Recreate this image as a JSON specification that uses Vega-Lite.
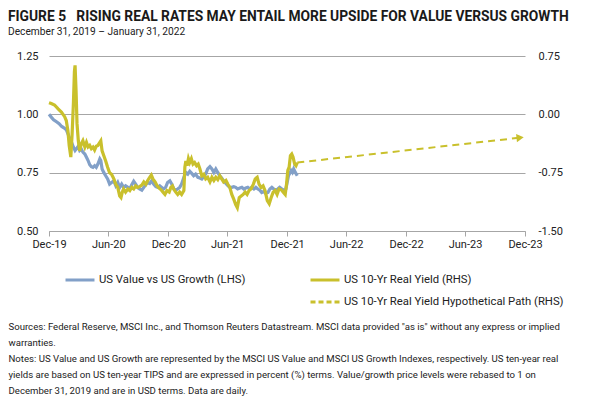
{
  "$schema": "https://vega.github.io/schema/vega-lite/v6.json",
  "width": 476,
  "height": 175,
  "autosize": {"type": "none"},
  "padding": {"left": 49, "top": 56, "right": 70, "bottom": 166},
  "background": "white",
  "config": {
    "font": "Roboto",
    "view": {"stroke": null},
    "locale": {"number": {"decimal": ".", "thousands": ",", "grouping": [3], "currency": ["$", ""], "minus": "-"}}
  },
  "title": {
    "text": "FIGURE 5\u00a0\u00a0 RISING REAL RATES MAY ENTAIL MORE UPSIDE FOR VALUE VERSUS GROWTH",
    "subtitle": "December 31, 2019 – January 31, 2022",
    "anchor": "start",
    "frame": "group",
    "dx": -41,
    "fontSize": 13.8,
    "fontWeight": "bold",
    "color": "#1a1a1a",
    "subtitleFontSize": 10.2,
    "subtitleColor": "#222222",
    "subtitlePadding": 3,
    "offset": 13
  },
  "datasets": {
    "value": [
      {"d": "2019-12-31", "v": 1.000}, {"d": "2020-01-07", "v": 0.988}, {"d": "2020-01-14", "v": 0.977}, {"d": "2020-01-23", "v": 0.968},
      {"d": "2020-01-31", "v": 0.960}, {"d": "2020-02-08", "v": 0.948}, {"d": "2020-02-16", "v": 0.941}, {"d": "2020-02-22", "v": 0.934},
      {"d": "2020-02-27", "v": 0.917}, {"d": "2020-03-02", "v": 0.902}, {"d": "2020-03-07", "v": 0.888}, {"d": "2020-03-11", "v": 0.874},
      {"d": "2020-03-15", "v": 0.859}, {"d": "2020-03-20", "v": 0.845}, {"d": "2020-03-24", "v": 0.852}, {"d": "2020-03-29", "v": 0.862},
      {"d": "2020-04-03", "v": 0.845}, {"d": "2020-04-08", "v": 0.852}, {"d": "2020-04-13", "v": 0.838}, {"d": "2020-04-19", "v": 0.830},
      {"d": "2020-04-24", "v": 0.816}, {"d": "2020-04-29", "v": 0.802}, {"d": "2020-05-04", "v": 0.784}, {"d": "2020-05-09", "v": 0.776},
      {"d": "2020-05-14", "v": 0.773}, {"d": "2020-05-19", "v": 0.780}, {"d": "2020-05-24", "v": 0.773}, {"d": "2020-05-29", "v": 0.787},
      {"d": "2020-06-04", "v": 0.809}, {"d": "2020-06-07", "v": 0.802}, {"d": "2020-06-11", "v": 0.766}, {"d": "2020-06-16", "v": 0.751},
      {"d": "2020-06-22", "v": 0.737}, {"d": "2020-06-28", "v": 0.723}, {"d": "2020-07-04", "v": 0.701}, {"d": "2020-07-10", "v": 0.708},
      {"d": "2020-07-17", "v": 0.715}, {"d": "2020-07-23", "v": 0.694}, {"d": "2020-07-29", "v": 0.708}, {"d": "2020-08-04", "v": 0.687},
      {"d": "2020-08-10", "v": 0.701}, {"d": "2020-08-16", "v": 0.687}, {"d": "2020-08-22", "v": 0.694}, {"d": "2020-08-29", "v": 0.687},
      {"d": "2020-09-04", "v": 0.680}, {"d": "2020-09-10", "v": 0.698}, {"d": "2020-09-16", "v": 0.713}, {"d": "2020-09-22", "v": 0.701},
      {"d": "2020-09-28", "v": 0.687}, {"d": "2020-10-04", "v": 0.680}, {"d": "2020-10-11", "v": 0.675}, {"d": "2020-10-17", "v": 0.687},
      {"d": "2020-10-23", "v": 0.698}, {"d": "2020-10-29", "v": 0.708}, {"d": "2020-11-04", "v": 0.704}, {"d": "2020-11-10", "v": 0.715},
      {"d": "2020-11-16", "v": 0.701}, {"d": "2020-11-23", "v": 0.690}, {"d": "2020-11-29", "v": 0.687}, {"d": "2020-12-05", "v": 0.694},
      {"d": "2020-12-11", "v": 0.687}, {"d": "2020-12-17", "v": 0.680}, {"d": "2020-12-23", "v": 0.687}, {"d": "2020-12-29", "v": 0.708},
      {"d": "2021-01-05", "v": 0.715}, {"d": "2021-01-11", "v": 0.701}, {"d": "2021-01-17", "v": 0.680}, {"d": "2021-01-23", "v": 0.675},
      {"d": "2021-01-29", "v": 0.680}, {"d": "2021-02-04", "v": 0.687}, {"d": "2021-02-10", "v": 0.701}, {"d": "2021-02-17", "v": 0.730},
      {"d": "2021-02-23", "v": 0.751}, {"d": "2021-03-01", "v": 0.744}, {"d": "2021-03-07", "v": 0.756}, {"d": "2021-03-13", "v": 0.747},
      {"d": "2021-03-19", "v": 0.737}, {"d": "2021-03-25", "v": 0.744}, {"d": "2021-04-01", "v": 0.730}, {"d": "2021-04-07", "v": 0.727},
      {"d": "2021-04-13", "v": 0.723}, {"d": "2021-04-19", "v": 0.733}, {"d": "2021-04-25", "v": 0.744}, {"d": "2021-05-01", "v": 0.766},
      {"d": "2021-05-08", "v": 0.776}, {"d": "2021-05-14", "v": 0.766}, {"d": "2021-05-20", "v": 0.751}, {"d": "2021-05-26", "v": 0.766},
      {"d": "2021-06-01", "v": 0.751}, {"d": "2021-06-07", "v": 0.737}, {"d": "2021-06-13", "v": 0.727}, {"d": "2021-06-19", "v": 0.715},
      {"d": "2021-06-26", "v": 0.704}, {"d": "2021-07-02", "v": 0.694}, {"d": "2021-07-08", "v": 0.687}, {"d": "2021-07-14", "v": 0.687},
      {"d": "2021-07-20", "v": 0.690}, {"d": "2021-07-26", "v": 0.687}, {"d": "2021-08-01", "v": 0.680}, {"d": "2021-08-08", "v": 0.684},
      {"d": "2021-08-14", "v": 0.687}, {"d": "2021-08-20", "v": 0.680}, {"d": "2021-08-26", "v": 0.684}, {"d": "2021-09-01", "v": 0.687},
      {"d": "2021-09-07", "v": 0.680}, {"d": "2021-09-13", "v": 0.687}, {"d": "2021-09-20", "v": 0.680}, {"d": "2021-09-26", "v": 0.687},
      {"d": "2021-10-02", "v": 0.680}, {"d": "2021-10-08", "v": 0.675}, {"d": "2021-10-14", "v": 0.665}, {"d": "2021-10-20", "v": 0.669},
      {"d": "2021-10-26", "v": 0.661}, {"d": "2021-11-02", "v": 0.665}, {"d": "2021-11-08", "v": 0.680}, {"d": "2021-11-14", "v": 0.687},
      {"d": "2021-11-20", "v": 0.680}, {"d": "2021-11-26", "v": 0.675}, {"d": "2021-12-02", "v": 0.680}, {"d": "2021-12-08", "v": 0.687},
      {"d": "2021-12-15", "v": 0.680}, {"d": "2021-12-21", "v": 0.675}, {"d": "2021-12-27", "v": 0.680}, {"d": "2021-12-31", "v": 0.708},
      {"d": "2022-01-04", "v": 0.737}, {"d": "2022-01-08", "v": 0.747}, {"d": "2022-01-12", "v": 0.759}, {"d": "2022-01-16", "v": 0.751},
      {"d": "2022-01-20", "v": 0.766}, {"d": "2022-01-25", "v": 0.751}, {"d": "2022-01-31", "v": 0.737}
    ],
    "yield": [
      {"d": "2019-12-31", "v": 0.15}, {"d": "2020-01-07", "v": 0.14}, {"d": "2020-01-17", "v": 0.12}, {"d": "2020-01-28", "v": 0.07},
      {"d": "2020-02-07", "v": 0.03}, {"d": "2020-02-17", "v": -0.03}, {"d": "2020-02-22", "v": -0.08}, {"d": "2020-02-27", "v": -0.21},
      {"d": "2020-03-02", "v": -0.40}, {"d": "2020-03-07", "v": -0.55}, {"d": "2020-03-11", "v": -0.25}, {"d": "2020-03-15", "v": 0.15},
      {"d": "2020-03-18", "v": 0.55}, {"d": "2020-03-20", "v": 0.63}, {"d": "2020-03-23", "v": 0.31}, {"d": "2020-03-26", "v": -0.12},
      {"d": "2020-03-30", "v": -0.34}, {"d": "2020-04-03", "v": -0.47}, {"d": "2020-04-08", "v": -0.38}, {"d": "2020-04-13", "v": -0.34},
      {"d": "2020-04-19", "v": -0.42}, {"d": "2020-04-24", "v": -0.36}, {"d": "2020-04-29", "v": -0.42}, {"d": "2020-05-04", "v": -0.40},
      {"d": "2020-05-09", "v": -0.44}, {"d": "2020-05-14", "v": -0.42}, {"d": "2020-05-19", "v": -0.46}, {"d": "2020-05-24", "v": -0.41},
      {"d": "2020-05-29", "v": -0.40}, {"d": "2020-06-04", "v": -0.36}, {"d": "2020-06-07", "v": -0.34}, {"d": "2020-06-11", "v": -0.47},
      {"d": "2020-06-16", "v": -0.53}, {"d": "2020-06-22", "v": -0.60}, {"d": "2020-06-28", "v": -0.68}, {"d": "2020-07-04", "v": -0.75},
      {"d": "2020-07-10", "v": -0.77}, {"d": "2020-07-17", "v": -0.83}, {"d": "2020-07-23", "v": -0.90}, {"d": "2020-07-29", "v": -0.94},
      {"d": "2020-08-04", "v": -1.05}, {"d": "2020-08-08", "v": -1.07}, {"d": "2020-08-12", "v": -1.00}, {"d": "2020-08-16", "v": -0.96},
      {"d": "2020-08-22", "v": -1.00}, {"d": "2020-08-29", "v": -0.96}, {"d": "2020-09-04", "v": -0.98}, {"d": "2020-09-10", "v": -0.94},
      {"d": "2020-09-16", "v": -0.96}, {"d": "2020-09-22", "v": -0.92}, {"d": "2020-09-28", "v": -0.94}, {"d": "2020-10-04", "v": -0.93},
      {"d": "2020-10-11", "v": -0.91}, {"d": "2020-10-17", "v": -0.87}, {"d": "2020-10-23", "v": -0.90}, {"d": "2020-10-29", "v": -0.85},
      {"d": "2020-11-04", "v": -0.81}, {"d": "2020-11-09", "v": -0.78}, {"d": "2020-11-14", "v": -0.83}, {"d": "2020-11-21", "v": -0.87},
      {"d": "2020-11-27", "v": -0.92}, {"d": "2020-12-03", "v": -0.95}, {"d": "2020-12-09", "v": -0.97}, {"d": "2020-12-15", "v": -1.00},
      {"d": "2020-12-21", "v": -1.03}, {"d": "2020-12-27", "v": -0.98}, {"d": "2021-01-03", "v": -1.00}, {"d": "2021-01-08", "v": -0.94},
      {"d": "2021-01-13", "v": -0.92}, {"d": "2021-01-18", "v": -0.97}, {"d": "2021-01-23", "v": -1.00}, {"d": "2021-01-29", "v": -1.03},
      {"d": "2021-02-04", "v": -1.00}, {"d": "2021-02-10", "v": -1.03}, {"d": "2021-02-17", "v": -0.98}, {"d": "2021-02-20", "v": -0.68},
      {"d": "2021-02-23", "v": -0.60}, {"d": "2021-02-27", "v": -0.66}, {"d": "2021-03-03", "v": -0.57}, {"d": "2021-03-07", "v": -0.62},
      {"d": "2021-03-12", "v": -0.57}, {"d": "2021-03-17", "v": -0.64}, {"d": "2021-03-22", "v": -0.62}, {"d": "2021-03-28", "v": -0.66},
      {"d": "2021-04-02", "v": -0.64}, {"d": "2021-04-07", "v": -0.70}, {"d": "2021-04-13", "v": -0.79}, {"d": "2021-04-19", "v": -0.77},
      {"d": "2021-04-25", "v": -0.83}, {"d": "2021-05-01", "v": -0.81}, {"d": "2021-05-08", "v": -0.87}, {"d": "2021-05-14", "v": -0.81},
      {"d": "2021-05-20", "v": -0.85}, {"d": "2021-05-26", "v": -0.81}, {"d": "2021-06-01", "v": -0.84}, {"d": "2021-06-07", "v": -0.79},
      {"d": "2021-06-13", "v": -0.83}, {"d": "2021-06-19", "v": -0.87}, {"d": "2021-06-26", "v": -0.85}, {"d": "2021-07-02", "v": -0.90},
      {"d": "2021-07-08", "v": -0.94}, {"d": "2021-07-14", "v": -1.03}, {"d": "2021-07-20", "v": -1.09}, {"d": "2021-07-26", "v": -1.16},
      {"d": "2021-07-31", "v": -1.20}, {"d": "2021-08-06", "v": -1.07}, {"d": "2021-08-12", "v": -1.05}, {"d": "2021-08-18", "v": -1.03},
      {"d": "2021-08-24", "v": -1.00}, {"d": "2021-08-30", "v": -1.03}, {"d": "2021-09-05", "v": -0.98}, {"d": "2021-09-11", "v": -0.96},
      {"d": "2021-09-18", "v": -0.90}, {"d": "2021-09-24", "v": -0.83}, {"d": "2021-09-30", "v": -0.81}, {"d": "2021-10-06", "v": -0.90},
      {"d": "2021-10-12", "v": -0.94}, {"d": "2021-10-18", "v": -0.92}, {"d": "2021-10-24", "v": -0.98}, {"d": "2021-10-31", "v": -1.11},
      {"d": "2021-11-06", "v": -1.15}, {"d": "2021-11-12", "v": -1.07}, {"d": "2021-11-18", "v": -1.00}, {"d": "2021-11-24", "v": -0.98},
      {"d": "2021-11-30", "v": -1.03}, {"d": "2021-12-06", "v": -0.96}, {"d": "2021-12-13", "v": -0.97}, {"d": "2021-12-19", "v": -1.00},
      {"d": "2021-12-25", "v": -1.03}, {"d": "2021-12-29", "v": -0.90}, {"d": "2022-01-02", "v": -0.72}, {"d": "2022-01-06", "v": -0.68},
      {"d": "2022-01-10", "v": -0.53}, {"d": "2022-01-14", "v": -0.51}, {"d": "2022-01-18", "v": -0.55}, {"d": "2022-01-23", "v": -0.64},
      {"d": "2022-01-27", "v": -0.66}, {"d": "2022-01-31", "v": -0.62}
    ],
    "path": [
      {"d": "2022-01-31", "v": -0.62}, {"d": "2023-12-16", "v": -0.30}
    ],
    "arrow": [
      {"d": "2023-12-16", "v": -0.30}
    ]
  },
  "encoding": {
    "x": {
      "field": "d",
      "type": "temporal",
      "scale": {
        "type": "utc",
        "domain": [{"year": 2019, "month": 12, "date": 31, "utc": true}, {"year": 2023, "month": 12, "date": 31, "utc": true}]
      },
      "axis": {
        "values": [
          {"year": 2019, "month": 12, "date": 31, "utc": true},
          {"year": 2020, "month": 6, "date": 30, "utc": true},
          {"year": 2020, "month": 12, "date": 31, "utc": true},
          {"year": 2021, "month": 6, "date": 30, "utc": true},
          {"year": 2021, "month": 12, "date": 31, "utc": true},
          {"year": 2022, "month": 6, "date": 30, "utc": true},
          {"year": 2022, "month": 12, "date": 31, "utc": true},
          {"year": 2023, "month": 6, "date": 30, "utc": true},
          {"year": 2023, "month": 12, "date": 31, "utc": true}
        ],
        "labelExpr": "utcFormat(datum.value, '%b-%y')",
        "grid": false,
        "domainColor": "#a6a6a6",
        "tickColor": "#a6a6a6",
        "tickSize": 5,
        "labelFontSize": 11,
        "labelColor": "#222222",
        "labelPadding": 2,
        "labelFlush": false,
        "labelOverlap": false,
        "title": [
          "Sources: Federal Reserve, MSCI Inc., and Thomson Reuters Datastream. MSCI data provided \"as is\" without any express or implied",
          "warranties.",
          "Notes: US Value and US Growth are represented by the MSCI US Value and MSCI US Growth Indexes, respectively. US ten-year real",
          "yields are based on US ten-year TIPS and are expressed in percent (%) terms. Value/growth price levels were rebased to 1 on",
          "December 31, 2019 and are in USD terms. Data are daily."
        ],
        "titleX": -41,
        "titleY": 90,
        "titleAlign": "left",
        "titleAnchor": "start",
        "titleBaseline": "top",
        "titleFontSize": 9.6,
        "titleFontWeight": "normal",
        "titleColor": "#222222",
        "titleLineHeight": 16
      }
    }
  },
  "layer": [
    {
      "data": {"name": "value"},
      "mark": {"type": "line", "strokeWidth": 3.2},
      "encoding": {
        "y": {
          "field": "v",
          "type": "quantitative",
          "scale": {"domain": [0.5, 1.25], "nice": false, "zero": false},
          "axis": {
            "orient": "left",
            "values": [0.5, 0.75, 1.0, 1.25],
            "format": ".2f",
            "grid": true,
            "gridColor": "#a6a6a6",
            "domain": false,
            "ticks": false,
            "labelFontSize": 11,
            "labelColor": "#222222",
            "labelPadding": 11,
            "title": null
          }
        },
        "color": {
          "datum": "US Value vs US Growth (LHS)",
          "type": "nominal",
          "scale": {
            "domain": ["US Value vs US Growth (LHS)", "US 10-Yr Real Yield (RHS)", " ", "US 10-Yr Real Yield Hypothetical Path (RHS)"],
            "range": ["#82a0c8", "#c9c02c", "transparent", "#c9c02c"]
          },
          "legend": {
            "title": null,
            "orient": "none",
            "legendX": 15,
            "legendY": 208,
            "direction": "horizontal",
            "columns": 2,
            "columnPadding": 58,
            "rowPadding": -10,
            "symbolType": "stroke",
            "symbolSize": 840,
            "symbolStrokeWidth": 3,
            "labelFontSize": 11.3,
            "labelColor": "#222222",
            "labelOffset": 3,
            "labelLimit": 400,
            "encode": {
              "symbols": {
                "update": {
                  "strokeDash": {"signal": "datum.value === 'US 10-Yr Real Yield Hypothetical Path (RHS)' ? [5, 3] : [1, 0]"}
                }
              }
            }
          }
        }
      }
    },
    {
      "layer": [
        {
          "data": {"name": "yield"},
          "mark": {"type": "line", "strokeWidth": 3.2},
          "encoding": {
            "y": {
              "field": "v",
              "type": "quantitative",
              "scale": {"domain": [-1.5, 0.75], "nice": false, "zero": false},
              "axis": {
                "orient": "right",
                "values": [-1.5, -0.75, 0, 0.75],
                "format": ".2f",
                "grid": false,
                "domain": false,
                "ticks": false,
                "labelFontSize": 11,
                "labelColor": "#222222",
                "labelPadding": 13,
                "title": null
              }
            },
            "color": {"datum": "US 10-Yr Real Yield (RHS)", "type": "nominal"}
          }
        },
        {
          "data": {"name": "path"},
          "mark": {"type": "line", "strokeWidth": 2, "strokeDash": [7, 5]},
          "encoding": {
            "y": {"field": "v", "type": "quantitative"},
            "color": {"datum": "US 10-Yr Real Yield Hypothetical Path (RHS)", "type": "nominal"}
          }
        },
        {
          "data": {"name": "arrow"},
          "mark": {"type": "point", "shape": "triangle-right", "filled": true, "size": 70, "angle": -6, "color": "#c9c02c", "opacity": 1},
          "encoding": {
            "y": {"field": "v", "type": "quantitative"}
          }
        }
      ]
    }
  ],
  "resolve": {"scale": {"y": "independent"}}
}
